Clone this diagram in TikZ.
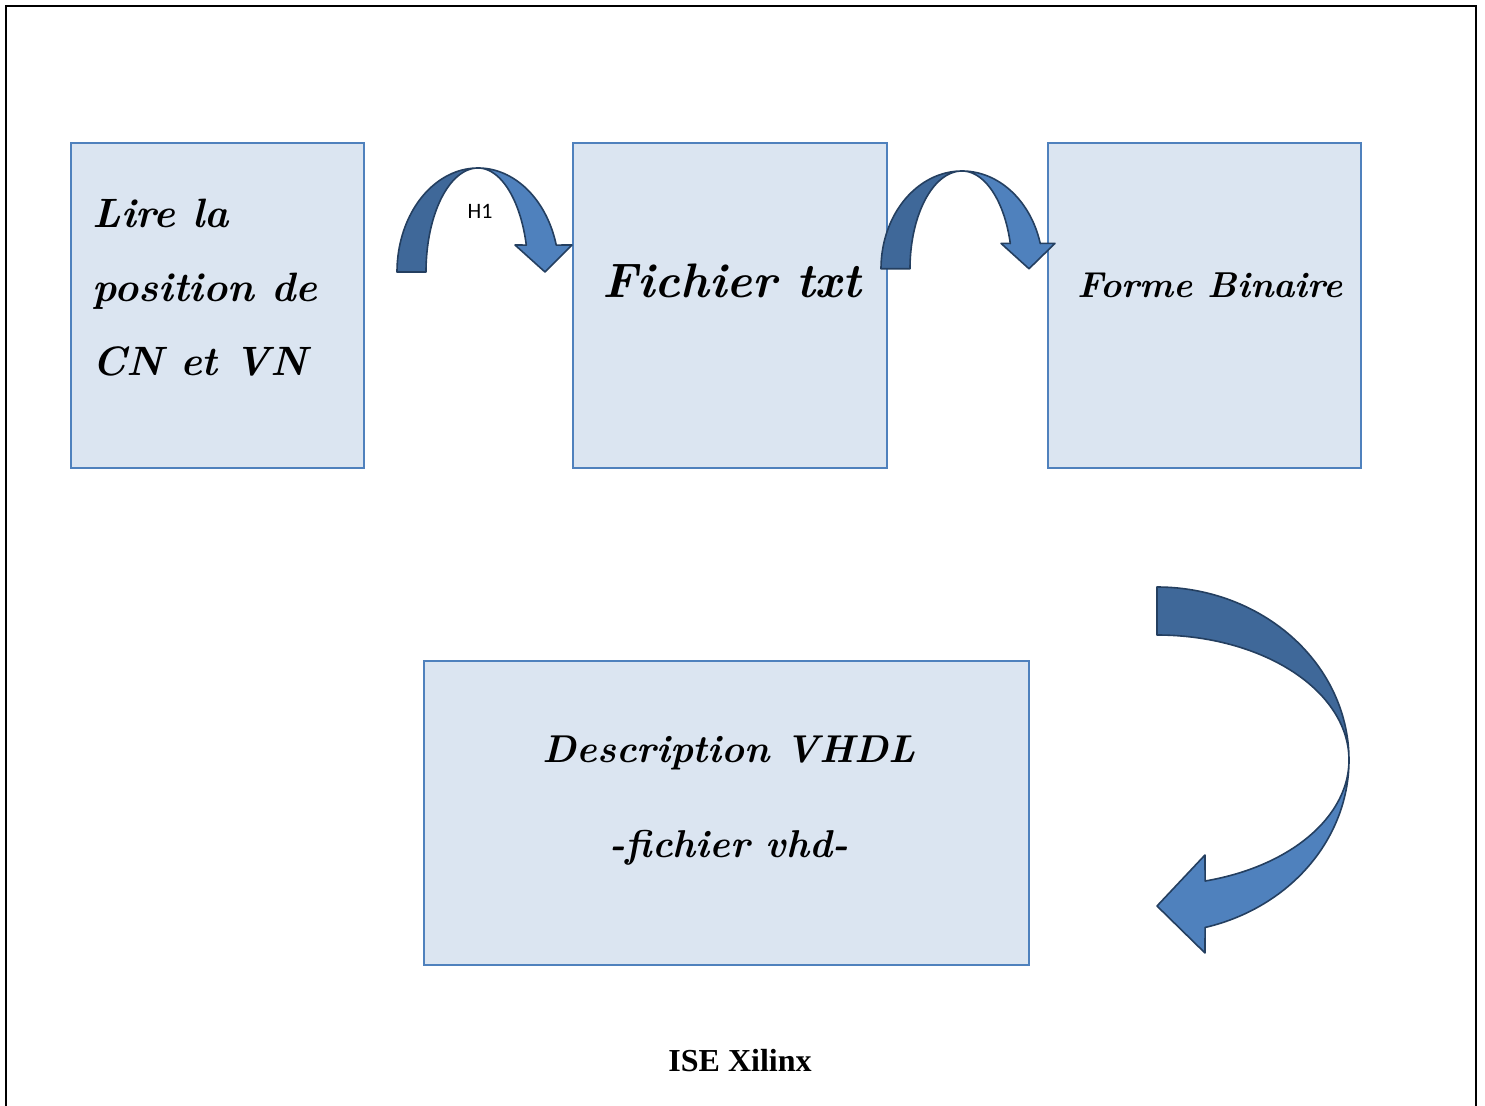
\documentclass[tikz,border=0pt]{standalone}
\usepackage{fontspec}
\usepackage{tikz}
\newfontfamily\timesfont{Liberation Serif}
\newfontfamily\calibrifont{Carlito}
\definecolor{boxfill}{RGB}{219, 229, 241}
\definecolor{boxline}{RGB}{79, 129, 189}
\definecolor{arrowlight}{RGB}{79, 129, 189}
\definecolor{arrowdark}{RGB}{63, 104, 153}
\definecolor{arrowline}{RGB}{36, 63, 96}
\definecolor{textblack}{RGB}{0, 0, 0}

\begin{document}
\begin{tikzpicture}[
        x=0.5pt, y=-0.5pt,
        box/.style={rectangle, draw=boxline, line width=1pt, fill=boxfill, inner sep=0pt},
        script/.style={inner sep=0pt, text=textblack, font=\bfseries\itshape},
        backarc/.style={fill=arrowdark, draw=arrowline, line width=0.8pt, line join=round},
        frontarc/.style={fill=arrowlight, draw=arrowline, line width=0.8pt, line join=round}
    ]
    \useasboundingbox (0,0) rectangle (1485,1106);

    % Page frame
    \draw[line width=1.4pt] (6,1106) -- (6,6) -- (1476,6) -- (1476,1106);

    % Boxes
    \node[box, minimum width=146.5pt, minimum height=162.5pt] (lire) at (217.5, 305.5) {};
    \node[box, minimum width=157pt, minimum height=162.5pt] (fichier) at (730, 305.5) {};
    \node[box, minimum width=156.5pt, minimum height=162.5pt] (binaire) at (1204.5, 305.5) {};
    \node[box, minimum width=302.5pt, minimum height=152pt] (vhdl) at (726.5, 813) {};

    % Box texts
    \node[script, anchor=north west, align=left, font=\bfseries\itshape\fontsize{20.5}{37}\selectfont] (liretxt) at (92, 199) {Lire la\\ position de\\ CN et VN};
    \node[script, anchor=base, font=\bfseries\itshape\fontsize{24.2}{30}\selectfont] (fichiertxt) at (731.5, 298) {Fichier txt};
    \node[script, anchor=base, font=\bfseries\itshape\fontsize{18}{22}\selectfont] (binairetxt) at (1210, 298) {Forme Binaire};
    \node[script, anchor=north, align=center, font=\bfseries\itshape\fontsize{19.4}{47.5}\selectfont] (vhdltxt) at (729, 735) {Description VHDL\\ -fichier vhd-};

    % Curved arrows between the boxes
    \begin{scope}[shift={(478,168)}]
        \filldraw[backarc] plot[domain=-90:0, samples=40] ({81*sin(\x)},{104-104*cos(\x)})
            -- plot[domain=0:-90, samples=40] ({52*sin(\x)},{104-104*cos(\x)}) -- cycle;
        \filldraw[frontarc] plot[domain=0:75, samples=40] ({81*sin(\x)},{104-104*cos(\x)})
            -- (94,77) -- (67,104) -- (37,77)
            -- plot[domain=75:0, samples=40] ({50*sin(\x)},{104-104*cos(\x)}) -- cycle;
    \end{scope}
    \node[inner sep=0pt, font=\calibrifont\fontsize{11}{13}\selectfont] (h1) at (480, 211) {H1};

    \begin{scope}[shift={(962,171)}, yscale=0.94]
        \filldraw[backarc] plot[domain=-90:0, samples=40] ({81*sin(\x)},{104-104*cos(\x)})
            -- plot[domain=0:-90, samples=40] ({52*sin(\x)},{104-104*cos(\x)}) -- cycle;
        \filldraw[frontarc] plot[domain=0:75, samples=40] ({81*sin(\x)},{104-104*cos(\x)})
            -- (93,77) -- (67,104) -- (39,77)
            -- plot[domain=75:0, samples=40] ({50*sin(\x)},{104-104*cos(\x)}) -- cycle;
    \end{scope}

    % Big arrow down to the VHDL box
    \filldraw[backarc] plot[domain=-90:0, samples=60] ({1157+192*cos(\x)},{760+173*sin(\x)})
        -- plot[domain=0:-90, samples=60] ({1157+192*cos(\x)},{760+125*sin(\x)}) -- cycle;
    \filldraw[frontarc] plot[domain=0:75.5, samples=60] ({1157+192*cos(\x)},{760+173*sin(\x)})
        -- (1205,953) -- (1157,906) -- (1205,855)
        -- plot[domain=75.5:0, samples=60] ({1157+192*cos(\x)},{760+125*sin(\x)}) -- cycle;

    % Caption
    \node[anchor=base, inner sep=0pt, font=\timesfont\bfseries\fontsize{16}{19}\selectfont] (ise) at (740, 1072) {ISE Xilinx};

\end{tikzpicture}
\end{document}
